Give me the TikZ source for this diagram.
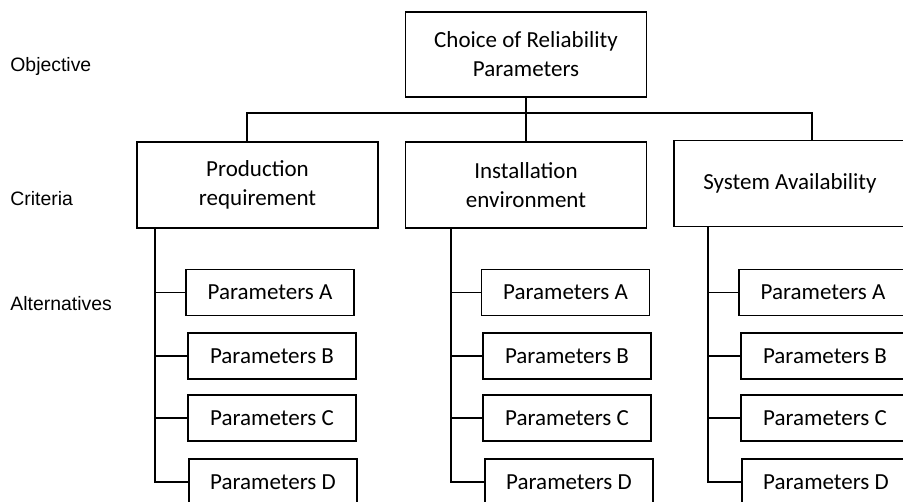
\documentclass[tikz,border=0pt]{standalone}
\usepackage{fontspec}
\setmainfont{Carlito}
\newfontfamily\lblfont{Liberation Sans}
\usetikzlibrary{positioning, calc}

\tikzset{
  goalbox/.style={draw, line width=0.6pt, align=center, minimum width=120.5pt, minimum height=42.5pt, font=\fontsize{11.5}{14.5}\selectfont},
  critbox/.style={goalbox, minimum height=43pt},
  altbox/.style={draw, line width=0.6pt, minimum width=84pt, minimum height=23pt, font=\fontsize{11.5}{14}\selectfont},
  level/.style={anchor=west, inner sep=0pt, font=\lblfont\fontsize{9.7}{12}\selectfont},
  link/.style={line width=0.6pt}
}

\begin{document}
\begin{tikzpicture}[x=0.5pt, y=-0.5pt]
\useasboundingbox (0,0) rectangle (903,502);
\clip (0,0) rectangle (903,502);

% levels
\node[level] (obj) at (10,66) {Objective};
\node[level] (cri) at (10,199) {Criteria};
\node[level] (alt) at (10,304) {Alternatives};

% objective and criteria
\node[goalbox] (goal) at (526,54.5) {Choice of Reliability\\Parameters};
\node[critbox] (crit1) at (257.5,185) {Production\\requirement};
\node[critbox] (crit2) at (526,185) {Installation\\environment};
\node[critbox, minimum width=116pt] (crit3) at (790,183.5) {System Availability};

% alternatives
\node[altbox] (a1) at (270,292.5) {Parameters A};
\node[altbox] (b1) at (272,356) {Parameters B};
\node[altbox] (c1) at (272,418) {Parameters C};
\node[altbox] (d1) at (273,482) {Parameters D};

\node[altbox] (a2) at (565.5,292.5) {Parameters A};
\node[altbox] (b2) at (567,356) {Parameters B};
\node[altbox] (c2) at (567,418) {Parameters C};
\node[altbox] (d2) at (569,482) {Parameters D};

\node[altbox] (a3) at (823,292.5) {Parameters A};
\node[altbox] (b3) at (825,356) {Parameters B};
\node[altbox] (c3) at (825,418) {Parameters C};
\node[altbox] (d3) at (826,482) {Parameters D};

% connectors
\coordinate (bus) at (526,113);
\coordinate (k1) at (247,0);
\coordinate (k3) at (812,0);
\draw[link] (goal.south) -- (crit2.north);
\draw[link] (k1 |- crit1.north) |- (k3 |- bus) -- (k3 |- crit3.north);

\coordinate (t1) at (155,0);
\coordinate (t2) at (451,0);
\coordinate (t3) at (708,0);
\draw[link] (t1 |- crit1.south) |- (d1.west);
\draw[link] (t2 |- crit2.south) |- (d2.west);
\draw[link] (t3 |- crit3.south) |- (d3.west);
\foreach \t/\n in {t1/1, t2/2, t3/3} {
  \draw[link] (\t |- a\n.west) -- (a\n.west);
  \draw[link] (\t |- b\n.west) -- (b\n.west);
  \draw[link] (\t |- c\n.west) -- (c\n.west);
}
\end{tikzpicture}
\end{document}
